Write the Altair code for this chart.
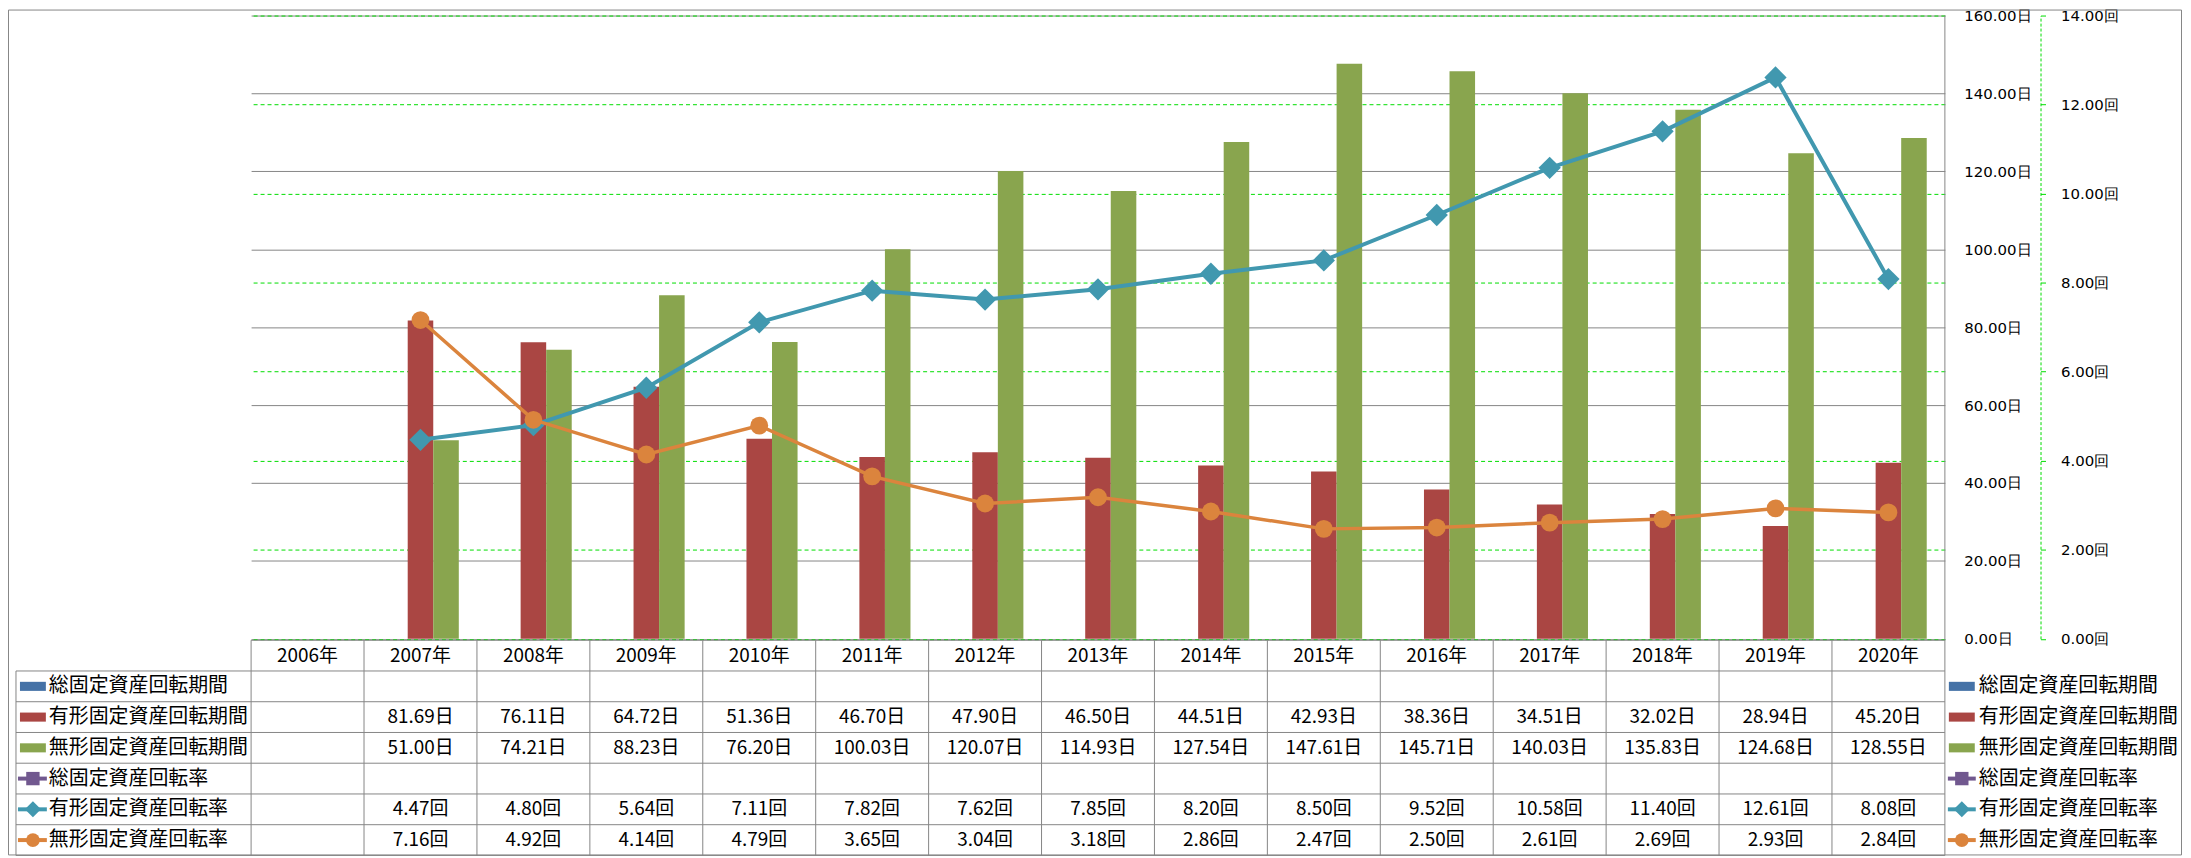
import altair as alt
import pandas as pd

# ---------------- data ----------------
years = ["2006", "2007", "2008", "2009", "2010", "2011", "2012", "2013",
         "2014", "2015", "2016", "2017", "2018", "2019", "2020"]
data_years = years[1:]

series_names = ["総固定資産回転期間", "有形固定資産回転期間", "無形固定資産回転期間",
                "総固定資産回転率", "有形固定資産回転率", "無形固定資産回転率"]
series_colors = ["#4572A7", "#AA4643", "#89A54E", "#71588F", "#4198AF", "#DB843D"]

tangible_days = [81.69, 76.11, 64.72, 51.36, 46.70, 47.90, 46.50, 44.51, 42.93, 38.36, 34.51, 32.02, 28.94, 45.20]
intangible_days = [51.00, 74.21, 88.23, 76.20, 100.03, 120.07, 114.93, 127.54, 147.61, 145.71, 140.03, 135.83, 124.68, 128.55]
tangible_rate = [4.47, 4.80, 5.64, 7.11, 7.82, 7.62, 7.85, 8.20, 8.50, 9.52, 10.58, 11.40, 12.61, 8.08]
intangible_rate = [7.16, 4.92, 4.14, 4.79, 3.65, 3.04, 3.18, 2.86, 2.47, 2.50, 2.61, 2.69, 2.93, 2.84]

day_ticks = [0, 20, 40, 60, 80, 100, 120, 140, 160]
rate_ticks = [0, 2, 4, 6, 8, 10, 12, 14]

# ---------------- styles ----------------
GRID_GRAY = "#868686"
GREEN = "#00DD00"
NUM_FONT = "DejaVu Sans"
JP_FONT = "Noto Sans CJK JP"
W, H = 1700, 625.6

color_enc = alt.Color("series:N", scale=alt.Scale(domain=series_names, range=series_colors), legend=None)
X_SCALE = alt.Scale(domain=years, paddingInner=0, paddingOuter=0)
x_year = alt.X("year:N", scale=X_SCALE, axis=None)

# ---------------- primary (days) ----------------
bar_df = pd.DataFrame({
    "year": data_years * 2,
    "series": [series_names[1]] * len(data_years) + [series_names[2]] * len(data_years),
    "value": tangible_days + intangible_days,
})
day_axis = alt.Axis(orient="right", values=day_ticks, labelExpr="format(datum.value, '.2f') + '日'",
                    grid=True, gridColor=GRID_GRAY, gridWidth=1, domain=False, ticks=False, tickSize=0,
                    labelPadding=19, labelAlign="left", labelFont=NUM_FONT, labelFontSize=15,
                    labelColor="#000000", title=None)
bars = alt.Chart(bar_df).mark_bar().encode(
    x=x_year,
    xOffset=alt.XOffset("series:N", scale=alt.Scale(domain=series_names[:3], paddingInner=0, paddingOuter=0.71)),
    y=alt.Y("value:Q", scale=alt.Scale(domain=[0, 160], nice=False, zero=True), axis=day_axis),
    color=color_enc,
)
primary = alt.layer(bars)

# ---------------- secondary (rates) ----------------
rate_scale = alt.Scale(domain=[0, 14], nice=False, zero=True)
rate_axis = alt.Axis(orient="right", offset=96, values=rate_ticks, labelExpr="format(datum.value, '.2f') + '回'",
                     grid=True, gridColor=GREEN, gridDash=[4, 3], gridWidth=1,
                     domain=True, domainColor=GREEN, domainDash=[3, 2], domainWidth=1,
                     ticks=True, tickColor=GREEN, tickSize=5, labelPadding=15, labelAlign="left",
                     labelFont=NUM_FONT, labelFontSize=15, labelColor="#000000", title=None)
y_rate = alt.Y("value:Q", scale=rate_scale, axis=rate_axis)


def rate_layers(name, vals, shape, size, width):
    df = pd.DataFrame({"year": data_years, "series": name, "value": vals})
    base = alt.Chart(df)
    line = base.mark_line(strokeWidth=width).encode(x=x_year, y=y_rate, color=color_enc)
    pts = base.mark_point(shape=shape, size=size, filled=True, opacity=1).encode(
        x=x_year, y=y_rate, color=color_enc)
    return [line, pts]


secondary = alt.layer(
    *rate_layers(series_names[4], tangible_rate, "diamond", 500, 4),
    *rate_layers(series_names[5], intangible_rate, "circle", 320, 3.5),
)

# ---------------- data table ----------------
row_keys = ["_hdr"] + series_names
ROW_SCALE = alt.Scale(domain=row_keys, range=[627, 843], paddingInner=0, paddingOuter=0)
y_row = alt.Y("row:N", scale=ROW_SCALE, axis=None)

cells = [{"year": y, "row": "_hdr", "text": y + "年"} for y in years]
for name, vals, unit in [(series_names[1], tangible_days, "日"), (series_names[2], intangible_days, "日"),
                         (series_names[4], tangible_rate, "回"), (series_names[5], intangible_rate, "回")]:
    for y, v in zip(data_years, vals):
        cells.append({"year": y, "row": name, "text": f"{v:.2f}{unit}"})
cell_df = pd.DataFrame(cells)

cell_text = alt.Chart(cell_df).mark_text(font=JP_FONT, fontSize=19, color="#000000").encode(
    x=x_year, y=y_row, text="text:N")

leg_df = pd.DataFrame({"row": series_names, "series": series_names})
bar_leg = leg_df.iloc[:3]
line_leg = leg_df.iloc[3:]
RECT_PATH = "M-1,-0.35L1,-0.35L1,0.35L-1,0.35Z"

layers_tbl = [cell_text]
for x_text, x_rect, x_l1, x_l2 in [(-203, -219, -234, -205), (1734, 1717, 1703, 1731)]:
    layers_tbl.append(alt.Chart(leg_df).mark_text(font=JP_FONT, fontSize=20, color="#000000", align="left").encode(
        x=alt.value(x_text), y=y_row, text="row:N"))
    layers_tbl.append(alt.Chart(bar_leg).mark_point(shape=RECT_PATH, size=676, filled=True, opacity=1).encode(
        x=alt.value(x_rect), y=y_row, color=color_enc))
    layers_tbl.append(alt.Chart(line_leg).mark_rule(strokeWidth=4).encode(
        x=alt.value(x_l1), x2=alt.value(x_l2), y=y_row, color=color_enc))
    for i, (shape, size) in enumerate([("square", 180), ("diamond", 260), ("circle", 190)]):
        layers_tbl.append(alt.Chart(line_leg.iloc[i:i + 1]).mark_point(shape=shape, size=size, filled=True, opacity=1).encode(
            x=alt.value(x_rect), y=y_row, color=color_enc))

# table frame lines
hl_df = pd.DataFrame({"row": series_names})
layers_tbl.append(alt.Chart(hl_df).mark_rule(color=GRID_GRAY, strokeWidth=1).encode(
    x=alt.value(-236), x2=alt.value(W), y=alt.Y("row:N", scale=ROW_SCALE, axis=None, bandPosition=0)))
layers_tbl.append(alt.Chart(hl_df.iloc[-1:]).mark_rule(color=GRID_GRAY, strokeWidth=1).encode(
    x=alt.value(-236), x2=alt.value(W), y=alt.Y("row:N", scale=ROW_SCALE, axis=None, bandPosition=1)))
layers_tbl.append(alt.Chart(pd.DataFrame({"row": ["_hdr"]})).mark_rule(color=GRID_GRAY, strokeWidth=1).encode(
    x=alt.value(0), x2=alt.value(W), y=alt.Y("row:N", scale=ROW_SCALE, axis=None, bandPosition=0)))
vl_df = pd.DataFrame({"year": years, "top": "_hdr", "bottom": series_names[-1]})
layers_tbl.append(alt.Chart(vl_df).mark_rule(color=GRID_GRAY, strokeWidth=1).encode(
    x=alt.X("year:N", scale=X_SCALE, axis=None, bandPosition=0),
    y=alt.Y("top:N", scale=ROW_SCALE, axis=None, bandPosition=0),
    y2=alt.Y2("bottom:N", bandPosition=1)))
layers_tbl.append(alt.Chart(pd.DataFrame({"top": [series_names[0]], "bottom": [series_names[-1]]})).mark_rule(
    color=GRID_GRAY, strokeWidth=1).encode(
    x=alt.value(-236),
    y=alt.Y("top:N", scale=ROW_SCALE, axis=None, bandPosition=0),
    y2=alt.Y2("bottom:N", bandPosition=1)))
# plot-area right border and outer frame
layers_tbl.append(alt.Chart(pd.DataFrame({"a": [0]})).mark_rule(color=GRID_GRAY, strokeWidth=1).encode(
    x=alt.value(W), y=alt.value(0), y2=alt.value(843)))
layers_tbl.append(alt.Chart(pd.DataFrame({"a": [0]})).mark_rect(fillOpacity=0, stroke=GRID_GRAY, strokeWidth=1).encode(
    x=alt.value(-243.5), x2=alt.value(1937.5), y=alt.value(-5.5), y2=alt.value(842.5)))

table = alt.layer(*layers_tbl)

chart = alt.layer(primary, secondary, table).resolve_scale(y="independent").properties(
    width=W, height=H,
    autosize=alt.AutoSizeParams(type="none"),
    padding={"left": 244, "top": 6, "right": 239, "bottom": 218.4},
    background="#ffffff",
).configure_view(stroke=None)

chart.save("out.html", embed_options={"renderer": "svg", "actions": False})
